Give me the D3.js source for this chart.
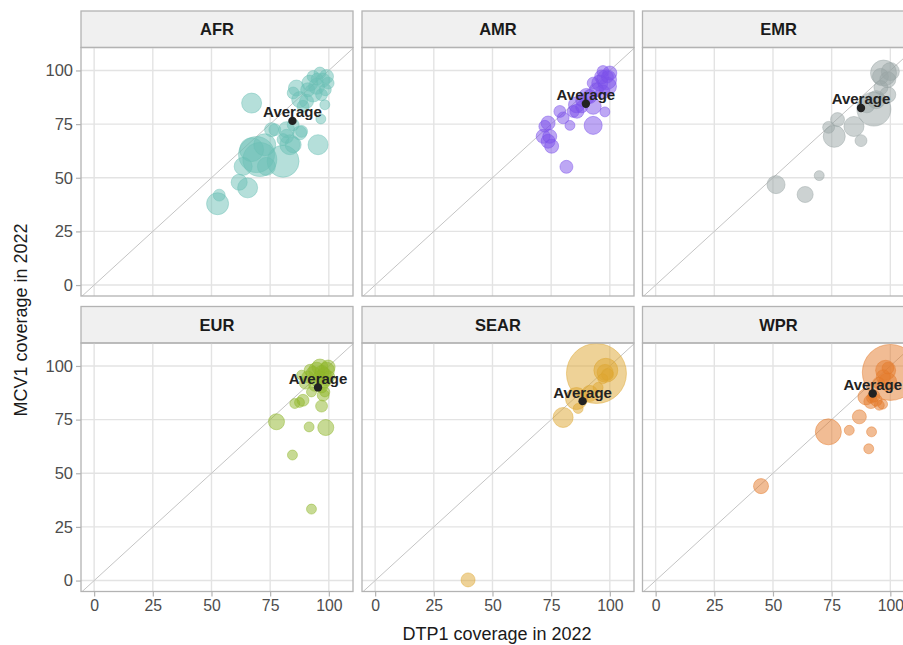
<!DOCTYPE html>
<html><head><meta charset="utf-8">
<script src="https://cdn.jsdelivr.net/npm/d3@7"></script>
<style>body{margin:0;background:#fff}svg{display:block}</style>
</head><body><div id="chart"></div>
<script>
// ---- data: [DTP1 coverage, MCV1 coverage, population (millions)] ----
const regions = ["AFR", "AMR", "EMR", "EUR", "SEAR", "WPR"];
const regionColors = ["#6CC0B6", "#7B4FEA", "#9AA5A5", "#8FB52A", "#DDA62F", "#E4792A"];
const AFR = [[67.1,84.8,76],[95.4,65.4,76],[52.6,37.9,103],[53.3,41.9,8],[61.8,47.9,34],[65.4,45.3,76],
  [69.2,60.8,412],[70.6,58.5,355],[80.5,57.7,302],[72.7,65.4,103],[67.1,63.1,134],[73.4,55.3,53],
  [83.4,65.4,76],[75.6,72.4,19],[82,72.4,34],[80.5,67.8,8],[84.8,65.4,34],[88.4,71.6,8],[82,69.3,19],
  [96.6,77.4,2],[86.2,91.8,34],[93.3,89.5,53],[99,97.2,19],[96.2,98.8,8],[98.3,84,2],[90.5,85.6,19],
  [87.6,86.4,34],[91.9,94.1,34],[99.7,94.1,8],[94.8,92.6,34],[84.8,89.5,8],[93.3,97.2,8],[96.9,88.7,8],
  [89,83.3,8],[84.8,74.7,8],[63.5,55.3,53],[87.6,70.9,19],[77,72.4,8],[97.5,95.5,19],[95,96,8],[91,91,19],[98.5,91,8]];
const AMR = [[81.5,55.1,13],[92.9,74.4,53],[97.9,80.7,2],[73.7,75.5,19],[83,74.4,2],[80.1,77.9,8],
  [71.6,69.3,19],[74.4,69.3,19],[73.7,67,19],[75.2,64.7,19],[78.7,80.9,8],[85.8,84,34],[84.4,80.9,8],
  [92.9,83.3,34],[91.5,87.9,19],[98.6,95.7,76],[100,98.8,19],[95.7,94.1,34],[94.3,91,19],[99,92.6,53],
  [97.1,99.5,8],[92.9,94.1,8],[90.1,87.9,34],[88,86,8],[96.5,97,19],[99,97,8],[97,90,19],[86,81,19],[88,83,8],[72.3,74,8]];
const EMR = [[51.3,46.8,53],[69.7,51,2],[63.7,42.2,34],[87.5,67.3,8],[76.1,69.3,103],[73.7,73.5,8],
  [77.5,77.1,19],[84.5,73.9,76],[93,82,355],[94,86.4,53],[98.9,88.7,34],[97.1,98.8,170],[100,99.5,53],
  [95.8,97.2,34],[98.9,95.7,34],[90,84,34],[96,92,19]];
const EUR = [[77.7,74,34],[84.5,58.5,2],[92.6,33.3,2],[91.6,71.6,2],[98.7,71.3,34],[96.9,81.3,8],
  [85.5,82.5,2],[89,84,8],[87.5,83,2],[92.6,87.9,2],[97.6,86.4,8],[96.2,99.5,34],[99,98,34],[93.3,96.5,19],
  [100,94.9,8],[91,94.9,8],[97.6,92.6,19],[94.8,98,34],[99.7,99.5,19],[96.9,90.2,8],[98.3,87.9,2],
  [88.4,95.7,2],[95,93,8],[98,96,19],[90,92,8],[97,97,19],[94,91,8],[99,93,2],[96,95,8],[92,98,8]];
const SEAR = [[39.6,0.3,19],[80.1,76,76],[94.3,96.5,1420],[98.3,98,134],[98,97,34],[86.5,80.2,2],
  [85.8,84.8,103],[91.5,87.2,34],[99,96,8],[97,94,2],[95,90,2]];
const WPR = [[44.9,44,26],[73.6,69.3,170],[82.5,70,2],[92,69.3,2],[90.8,61.4,2],[86.8,76.3,19],
  [95.3,81.7,2],[96.7,82.2,2],[91.7,83.4,19],[89.6,85.6,34],[100,97,1210],[98,98,76],[98.9,92.6,53],
  [93,86,8],[97,95,19],[99,99,8],[95,92,8],[92,85,2],[94,84,8]];
const regionData = [AFR, AMR, EMR, EUR, SEAR, WPR];
const averages = [[84.5,76.5],[89.8,84.5],[87.5,82.5],[95.4,90],[88.4,83.6],[92.5,87.2]];
const ticks = [0, 25, 50, 75, 100];

// ---- layout ----
const W = 903, H = 645;
const colLeft = [81, 362, 642.5], panelW = 272;
const rowTop = [11, 306.5], stripH = 36.5, plotH = 248.5;
const font = "'Liberation Sans', Arial, sans-serif";

const svg = d3.select("#chart").append("svg").attr("width", W).attr("height", H)
  .style("font-family", font);

const x = d3.scaleLinear().domain([-5.6, 110.3]).range([0, panelW]);
const y = d3.scaleLinear().domain([-5.1, 110.7]).range([plotH, 0]);
const r = d3.scaleSqrt().domain([0, 1420]).range([4, 30]);

regions.forEach((reg, i) => {
  const col = i % 3, row = Math.floor(i / 3);
  const gx = colLeft[col], gy = rowTop[row];
  const g = svg.append("g").attr("transform", `translate(${gx},${gy})`);
  // strip
  g.append("rect").attr("x", 0).attr("y", 0).attr("width", panelW).attr("height", stripH)
    .attr("fill", "#F0F0F0").attr("stroke", "#B3B3B3").attr("stroke-width", 1.3);
  g.append("text").attr("x", panelW / 2).attr("y", stripH / 2 + 6).attr("text-anchor", "middle")
    .attr("font-weight", "bold").attr("font-size", 16.5).attr("fill", "#1A1A1A").text(reg);
  const p = g.append("g").attr("transform", `translate(0,${stripH})`);
  const clipId = "clip" + i;
  p.append("clipPath").attr("id", clipId).append("rect").attr("width", panelW).attr("height", plotH);
  // grid
  p.selectAll(".gx").data(ticks).join("line").attr("x1", d => x(d)).attr("x2", d => x(d))
    .attr("y1", 0).attr("y2", plotH).attr("stroke", "#E3E3E3").attr("stroke-width", 1.4);
  p.selectAll(".gy").data(ticks).join("line").attr("y1", d => y(d)).attr("y2", d => y(d))
    .attr("x1", 0).attr("x2", panelW).attr("stroke", "#E3E3E3").attr("stroke-width", 1.4);
  const c = p.append("g").attr("clip-path", `url(#${clipId})`);
  // diagonal y = x
  c.append("line").attr("x1", x(-10)).attr("y1", y(-10)).attr("x2", x(120)).attr("y2", y(120))
    .attr("stroke", "#C4C4C4").attr("stroke-width", 1);
  const col_ = regionColors[i];
  const pts = regionData[i].slice().sort((a, b) => b[2] - a[2]);
  c.selectAll("circle.pt").data(pts).join("circle").attr("class", "pt")
    .attr("cx", d => x(d[0])).attr("cy", d => y(d[1])).attr("r", d => r(d[2]))
    .attr("fill", col_).attr("fill-opacity", 0.5)
    .attr("stroke", col_).attr("stroke-opacity", 0.45).attr("stroke-width", 1);
  const av = averages[i];
  c.append("circle").attr("cx", x(av[0])).attr("cy", y(av[1])).attr("r", 4.2).attr("fill", "#222");
  p.append("text").attr("x", x(av[0])).attr("y", y(av[1]) - 3.6).attr("text-anchor", "middle")
    .attr("font-weight", "bold").attr("font-size", 15).attr("fill", "#222").text("Average");
  // border
  p.append("rect").attr("width", panelW).attr("height", plotH).attr("fill", "none")
    .attr("stroke", "#B3B3B3").attr("stroke-width", 1.3);
  // axes
  if (col === 0) {
    const ya = p.append("g").call(d3.axisLeft(y).tickValues(ticks).tickSize(5).tickPadding(3));
    ya.select(".domain").remove();
    ya.selectAll("line").attr("stroke", "#B3B3B3").attr("stroke-width", 1.2);
    ya.selectAll("text").attr("font-size", 16.5).attr("fill", "#4D4D4D").attr("font-family", font);
  }
  if (row === 1) {
    const xa = p.append("g").attr("transform", `translate(0,${plotH})`)
      .call(d3.axisBottom(x).tickValues(ticks).tickSize(5).tickPadding(3));
    xa.select(".domain").remove();
    xa.selectAll("line").attr("stroke", "#B3B3B3").attr("stroke-width", 1.2);
    xa.selectAll("text").attr("font-size", 15.8).attr("fill", "#4D4D4D").attr("font-family", font);
  }
});

svg.append("text").attr("x", 497).attr("y", 640).attr("text-anchor", "middle")
  .attr("font-size", 18).attr("fill", "#1A1A1A").text("DTP1 coverage in 2022");
svg.append("text").attr("transform", "translate(27,320) rotate(-90)").attr("text-anchor", "middle")
  .attr("font-size", 18).attr("fill", "#1A1A1A").text("MCV1 coverage in 2022");
</script></body></html>
